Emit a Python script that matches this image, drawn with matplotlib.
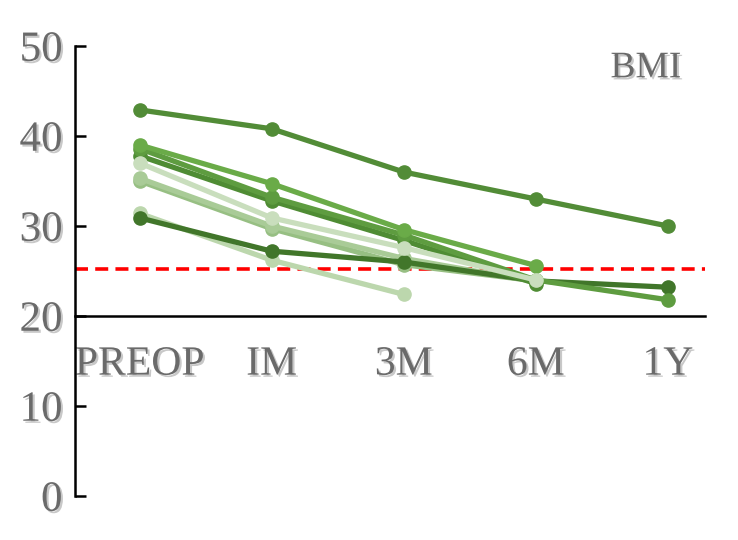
import matplotlib
matplotlib.use("Agg")
import matplotlib.pyplot as plt
import matplotlib.patheffects as pe

# time points and BMI series
timepoints = ["PREOP", "IM", "3M", "6M", "1Y"]
bmi_a = [42.9, 40.8, 36.0, 33.0, 30.0]
bmi_b = [30.9, 27.2, 26.0, 23.9, 23.2]
bmi_c = [31.4, 26.2, 22.4]
bmi_d = [39.0, 34.7, 29.6, 25.6]
bmi_e = [38.6, 33.2, 29.0, 24.0, 21.8]
bmi_f = [37.8, 32.8, 28.4, 23.6]
bmi_g = [37.0, 30.9, 27.6, 24.0]
bmi_h = [35.3, 30.0, 26.4, 23.8]
bmi_i = [35.0, 29.7, 25.7, 23.9]
threshold = 25.2

series = [
    (bmi_c, "#bcd7ad"),
    (bmi_i, "#97bf83"),
    (bmi_h, "#a9cb97"),
    (bmi_b, "#41762a"),
    (bmi_f, "#4f8c34"),
    (bmi_e, "#5e9c40"),
    (bmi_d, "#6aab48"),
    (bmi_g, "#c9debd"),
    (bmi_a, "#528c37"),
]

text_fx = [pe.SimplePatchShadow(offset=(1.5, -1.5), shadow_rgbFace="#c8c8c8", alpha=1.0), pe.Normal()]
font = "Liberation Serif"
grey = "#6a6a6a"

fig = plt.figure(figsize=(7.38, 5.4), dpi=100)
ax = fig.add_axes([0.1016, 0.0815, 0.8534, 0.8333])

for vals, col in series:
    ax.plot(range(len(vals)), vals, color=col, lw=3.8, marker="o", ms=9.5,
            solid_capstyle="round")

ax.axhline(threshold, color="red", lw=2.6, dashes=(3.6, 2.0), zorder=1)

ax.set_xlim(-0.49, 4.28)
ax.set_ylim(0, 50)

for s in ["top", "right"]:
    ax.spines[s].set_visible(False)
ax.spines["bottom"].set_position(("data", 20))
ax.spines["bottom"].set_linewidth(1.8)
ax.spines["left"].set_linewidth(1.8)

ax.set_yticks([0, 10, 20, 30, 40, 50])
ax.tick_params(axis="y", direction="in", length=8, width=1.8, pad=9)
ax.set_xticks(range(len(timepoints)))
ax.set_xticklabels(timepoints)
ax.tick_params(axis="x", length=0, pad=21)

for lab in ax.get_yticklabels():
    lab.set_fontfamily(font)
    lab.set_fontsize(31)
    lab.set_color(grey)
    lab.set_path_effects(text_fx)
for lab in ax.get_xticklabels():
    lab.set_fontfamily(font)
    lab.set_fontsize(30)
    lab.set_color(grey)
    lab.set_path_effects(text_fx)

ax.text(0.963, 0.951, "BMI", transform=ax.transAxes, ha="right", va="center",
        fontfamily=font, fontsize=27, color=grey, path_effects=text_fx)

fig.savefig("out.png", dpi=100)
